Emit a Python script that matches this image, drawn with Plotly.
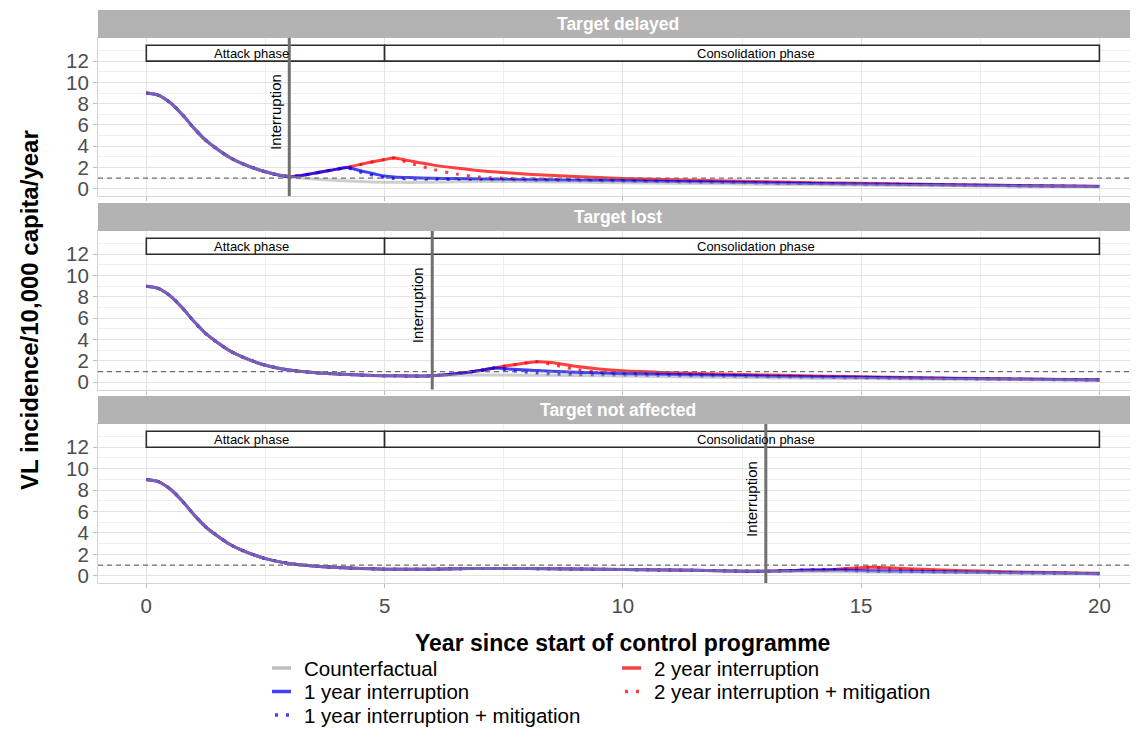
import plotly.graph_objects as go

# ---------------- data ----------------
years_cf = [0, 0.25, 0.5, 0.75, 1, 1.25, 1.5, 1.75, 2, 2.5, 3, 3.5, 4, 4.5, 5, 5.5,
            6, 6.5, 7, 7.5, 8, 9, 10, 11, 12, 13, 14, 15, 16, 17, 18, 19, 20]
counterfactual = [9.0, 8.8, 8.1, 7.0, 5.7, 4.55, 3.7, 2.95, 2.4, 1.6, 1.15, 0.92, 0.78,
                  0.68, 0.62, 0.6, 0.62, 0.66, 0.68, 0.68, 0.67, 0.63, 0.58, 0.53, 0.48,
                  0.42, 0.38, 0.35, 0.32, 0.29, 0.26, 0.23, 0.2]

panel_titles = ["Target delayed", "Target lost", "Target not affected"]
interruption_year = [3, 6, 13]

# Target delayed (interruption at year 3)
p1_years = [3, 3.5, 4, 4.2, 4.5, 5, 5.2, 5.5, 6, 6.5, 7, 7.5, 8, 9, 10, 12, 14, 16, 18, 20]
p1_one_year = [1.15, 1.45, 1.85, 2.0, 1.7, 1.2, 1.12, 1.06, 1.0, 0.96, 0.92, 0.89, 0.86,
               0.8, 0.75, 0.63, 0.51, 0.41, 0.31, 0.22]
p1_one_year_mit = [1.15, 1.45, 1.85, 2.0, 1.55, 1.05, 0.98, 0.94, 0.9, 0.88, 0.86, 0.84,
                   0.82, 0.77, 0.72, 0.6, 0.49, 0.39, 0.3, 0.21]
p1_two_year = [1.15, 1.45, 1.85, 2.0, 2.3, 2.75, 2.9, 2.65, 2.25, 1.95, 1.7, 1.53, 1.38,
               1.15, 0.97, 0.76, 0.58, 0.45, 0.33, 0.24]
p1_two_year_mit = [1.15, 1.45, 1.85, 2.0, 2.3, 2.75, 2.9, 2.45, 1.85, 1.4, 1.1, 1.0, 0.93,
                   0.85, 0.78, 0.64, 0.51, 0.41, 0.31, 0.22]

# Target lost (interruption at year 6)
p2_years = [6, 6.5, 7, 7.3, 7.6, 8, 8.2, 8.5, 9, 9.5, 10, 11, 12, 14, 16, 18, 20]
p2_one_year = [0.62, 0.8, 1.1, 1.33, 1.25, 1.15, 1.1, 1.04, 0.95, 0.87, 0.8, 0.72, 0.65,
               0.52, 0.41, 0.31, 0.22]
p2_one_year_mit = [0.62, 0.8, 1.1, 1.33, 1.12, 0.93, 0.84, 0.76, 0.72, 0.7, 0.68, 0.63,
                   0.58, 0.47, 0.37, 0.29, 0.21]
p2_two_year = [0.62, 0.8, 1.1, 1.33, 1.57, 1.84, 1.93, 1.85, 1.5, 1.25, 1.08, 0.9, 0.78,
               0.6, 0.45, 0.33, 0.24]
p2_two_year_mit = [0.62, 0.8, 1.1, 1.33, 1.57, 1.84, 1.93, 1.68, 1.22, 0.92, 0.85, 0.78,
                   0.7, 0.55, 0.42, 0.31, 0.23]

# Target not affected (interruption at year 13)
p3_years = [13, 13.5, 14, 14.4, 14.8, 15.2, 15.6, 16, 17, 18, 19, 20]
p3_one_year = [0.42, 0.48, 0.54, 0.57, 0.52, 0.48, 0.45, 0.42, 0.36, 0.3, 0.25, 0.2]
p3_one_year_mit = [0.42, 0.48, 0.54, 0.57, 0.47, 0.42, 0.39, 0.37, 0.32, 0.28, 0.24, 0.19]
p3_two_year = [0.42, 0.48, 0.54, 0.57, 0.7, 0.8, 0.74, 0.65, 0.5, 0.38, 0.3, 0.23]
p3_two_year_mit = [0.42, 0.48, 0.54, 0.57, 0.7, 0.8, 0.65, 0.55, 0.42, 0.33, 0.27, 0.21]

series_names = ["Counterfactual", "1 year interruption", "1 year interruption + mitigation",
                "2 year interruption", "2 year interruption + mitigation"]

x_ticks = [0, 5, 10, 15, 20]
y_ticks = [0, 2, 4, 6, 8, 10, 12]
target_level = 1
# label, box start, box end, label position
phases = [("Attack phase", 0, 5, 2.2), ("Consolidation phase", 5, 20, 12.8)]

# ---------------- styling ----------------
styles = {
    "Counterfactual": dict(color="rgba(165,165,165,0.55)", dash="solid"),
    "1 year interruption": dict(color="rgba(0,0,255,0.75)", dash="solid"),
    "1 year interruption + mitigation": dict(color="rgba(0,0,255,0.75)", dash="3px,8px"),
    "2 year interruption": dict(color="rgba(255,0,0,0.75)", dash="solid"),
    "2 year interruption + mitigation": dict(color="rgba(255,0,0,0.75)", dash="3px,8px"),
}
legend_key_colors = {
    "Counterfactual": "#BEBEBE",
    "1 year interruption": "#4040FF",
    "1 year interruption + mitigation": "#4040FF",
    "2 year interruption": "#FF4040",
    "2 year interruption + mitigation": "#FF4040",
}

panel_data = [
    (p1_years, [p1_one_year, p1_one_year_mit, p1_two_year, p1_two_year_mit]),
    (p2_years, [p2_one_year, p2_one_year_mit, p2_two_year, p2_two_year_mit]),
    (p3_years, [p3_one_year, p3_one_year_mit, p3_two_year, p3_two_year_mit]),
]


def full_series(t_int, yrs, vals):
    pre_t = [t for t in years_cf if t < t_int]
    pre_v = [v for t, v in zip(years_cf, counterfactual) if t < t_int]
    return pre_t + list(yrs), pre_v + list(vals)


FONT = "Liberation Sans, Arial, Helvetica, sans-serif"

# pixel layout helpers (page coordinates; the page body adds an 8px offset)
OFF = 8
PAGE_W, PAGE_H = 1138, 755
W, H = PAGE_W - OFF, PAGE_H - OFF
L, R, T = 98 - OFF, 0, 10 - OFF
PLOT_BOTTOM = 583 - OFF
B = H - PLOT_BOTTOM
paper_w = W - L - R
paper_h = H - T - B


def px_x(px):
    return (px - OFF - L) / paper_w


def py(px):
    return (PLOT_BOTTOM - (px - OFF)) / paper_h


plot_domains = [(py(196), py(38)), (py(389.5), py(231)), (py(583), py(424))]
strip_domains = [(py(38), py(10)), (py(231), py(203)), (py(424), py(396))]

fig = go.Figure()
draw_order = [3, 4, 1, 2, 0]

for i, (yrs, vals) in enumerate(panel_data):
    xa = "x" if i == 0 else f"x{i+1}"
    ya = "y" if i == 0 else f"y{i+1}"
    t_int = interruption_year[i]
    all_series = {"Counterfactual": (years_cf, counterfactual)}
    for name, v in zip(series_names[1:], vals):
        all_series[name] = full_series(t_int, yrs, v)
    for k in draw_order:
        name = series_names[k]
        xs, ys = all_series[name]
        fig.add_trace(go.Scatter(
            x=xs, y=ys, mode="lines", name=name,
            line=dict(color=styles[name]["color"], dash=styles[name]["dash"], width=3,
                      shape="spline", smoothing=0.9),
            xaxis=xa, yaxis=ya, showlegend=False,
        ))

axis_common = dict(
    showline=True, mirror=True, linecolor="#D4D4D4", linewidth=1,
    gridcolor="#E3E3E3", gridwidth=1, zeroline=False, automargin=False,
    ticks="outside", ticklen=4, tickcolor="#BDBDBD", tickwidth=1,
    tickfont=dict(family=FONT, size=20.5, color="#4D4D4D"),
)

layout = dict(
    width=W, height=H,
    margin=dict(l=L, r=R, t=T, b=B, autoexpand=False),
    plot_bgcolor="white", paper_bgcolor="white",
    font=dict(family=FONT, color="black"),
    showlegend=False,
)
for i in range(3):
    xk = "xaxis" if i == 0 else f"xaxis{i+1}"
    yk = "yaxis" if i == 0 else f"yaxis{i+1}"
    ya = "y" if i == 0 else f"y{i+1}"
    xa = "x" if i == 0 else f"x{i+1}"
    layout[xk] = dict(axis_common, domain=[0, 1], anchor=ya, range=[-1.014, 20.81],
                      tickvals=x_ticks, showticklabels=(i == 2),
                      minor=dict(tickvals=[2.5, 7.5, 12.5, 17.5], showgrid=True,
                                 gridcolor="#EFEFEF", gridwidth=1, ticks=""))
    if i > 0:
        layout[xk]["matches"] = "x"
    layout[yk] = dict(axis_common, domain=list(plot_domains[i]), anchor=xa,
                      range=[-0.675, 14.175], tickvals=y_ticks,
                      minor=dict(tickvals=[1, 3, 5, 7, 9, 11, 13], showgrid=True,
                                 gridcolor="#EFEFEF", gridwidth=1, ticks=""))
fig.update_layout(**layout)

shapes = []
annotations = []
for i in range(3):
    xa = "x" if i == 0 else f"x{i+1}"
    ya = "y" if i == 0 else f"y{i+1}"
    # strip
    s0, s1 = strip_domains[i]
    shapes.append(dict(type="rect", xref="paper", yref="paper", x0=0, x1=1, y0=s0, y1=s1,
                       fillcolor="#B3B3B3", line=dict(width=0), layer="above"))
    annotations.append(dict(text=f"<b>{panel_titles[i]}</b>", xref="paper", yref="paper",
                            x=0.5, y=(s0 + s1) / 2, showarrow=False,
                            font=dict(family=FONT, size=17.5, color="white"),
                            xanchor="center", yanchor="middle"))
    # phase boxes
    for label, a, b, lx in phases:
        shapes.append(dict(type="rect", xref=xa, yref=ya, x0=a, x1=b, y0=12, y1=13.5,
                           fillcolor="white", line=dict(color="#2B2B2B", width=1.6),
                           layer="above"))
        annotations.append(dict(text=label, xref=xa, yref=ya, x=lx, y=12.75,
                                showarrow=False, font=dict(family=FONT, size=13, color="black"),
                                xanchor="center", yanchor="middle"))
    # target line
    shapes.append(dict(type="line", xref=f"{xa} domain", yref=ya, x0=0, x1=1,
                       y0=target_level, y1=target_level,
                       line=dict(color="#6E6E6E", width=1.3, dash="5px,4px"), layer="above"))
    # interruption line
    t_int = interruption_year[i]
    shapes.append(dict(type="line", xref=xa, yref=f"{ya} domain", x0=t_int, x1=t_int,
                       y0=0, y1=1, line=dict(color="#707070", width=3), layer="above"))
    annotations.append(dict(text="Interruption", xref=xa, yref=ya, x=t_int, y=7.2,
                            showarrow=False, textangle=-90, xanchor="right", xshift=-4,
                            yanchor="middle",
                            font=dict(family=FONT, size=15, color="black")))

# axis titles
annotations.append(dict(text="<b>Year since start of control programme</b>", xref="paper",
                        yref="paper", x=px_x(622), y=py(643), showarrow=False,
                        xanchor="center", yanchor="middle",
                        font=dict(family=FONT, size=23, color="black")))
annotations.append(dict(text="<b>VL incidence/10,000 capita/year</b>", xref="paper",
                        yref="paper", x=px_x(29), y=py(310), showarrow=False,
                        textangle=-90, xanchor="center", yanchor="middle",
                        font=dict(family=FONT, size=24, color="black")))

# legend (two columns, keys + labels)
legend_cells = {
    "Counterfactual": (272, 668),
    "1 year interruption": (272, 691.5),
    "1 year interruption + mitigation": (272, 715),
    "2 year interruption": (622, 668),
    "2 year interruption + mitigation": (622, 691.5),
}
for name in series_names:
    kx, ky = legend_cells[name]
    dotted = styles[name]["dash"] != "solid"
    shapes.append(dict(type="line", xref="paper", yref="paper",
                       x0=px_x(kx + (3 if dotted else 0)), x1=px_x(kx + 19),
                       y0=py(ky), y1=py(ky),
                       line=dict(color=legend_key_colors[name], width=3.5,
                                 dash="3px,8px" if dotted else "solid")))
    annotations.append(dict(text=name, xref="paper", yref="paper", x=px_x(kx + 30),
                            y=py(ky), showarrow=False, xanchor="left", yanchor="middle",
                            font=dict(family=FONT, size=20.5, color="black")))

fig.update_layout(shapes=shapes, annotations=annotations)
fig.write_html("out.html")
